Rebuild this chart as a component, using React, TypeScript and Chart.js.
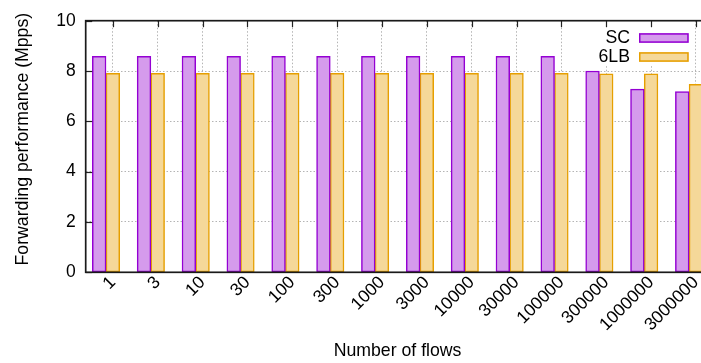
import React, { useEffect, useRef } from 'react';
import { Chart, registerables } from 'chart.js';

Chart.register(...registerables);

const categories = ['1', '3', '10', '30', '100', '300', '1000', '3000', '10000', '30000', '100000', '300000', '1000000', '3000000'];
const seriesNames = ['SC', '6LB'];
const scValues = [8.58, 8.58, 8.58, 8.58, 8.58, 8.58, 8.58, 8.58, 8.58, 8.58, 8.58, 8.0, 7.28, 7.18];
const lbValues = [7.91, 7.91, 7.91, 7.91, 7.91, 7.91, 7.91, 7.91, 7.91, 7.91, 7.91, 7.89, 7.89, 7.47];
const yTicks = [0, 2, 4, 6, 8, 10];

const FONT = "'Liberation Sans', Arial, Helvetica, sans-serif";
const TICK_SHIFT = 0.153;
const CANVAS_W = 720;
const CANVAS_H = 363;

export default function App() {
  const ref = useRef<HTMLCanvasElement>(null);

  useEffect(() => {
    const canvas = ref.current as HTMLCanvasElement;

    const framePlugin = {
      id: 'gnuFrame',
      afterDraw(chart: any) {
        const { ctx, chartArea } = chart;
        const { left, right, top, bottom } = chartArea;
        ctx.save();
        // key (legend) box
        const fontSize = 17.7;
        ctx.font = `${fontSize}px ${FONT}`;
        ctx.fillStyle = '#ffffff';
        ctx.fillRect(592, 23, 100, 43);
        chart.data.datasets.forEach((ds: any, i: number) => {
          const cy = 38 + i * 19;
          ctx.fillStyle = '#000';
          ctx.textAlign = 'right';
          ctx.textBaseline = 'middle';
          ctx.fillText(ds.label, 630, cy);
          ctx.fillStyle = ds.backgroundColor;
          ctx.fillRect(639, cy - 4.8, 49.7, 9.6);
          ctx.strokeStyle = ds.borderColor;
          ctx.lineWidth = 1.5;
          ctx.strokeRect(639.75, cy - 4.05, 48.2, 8.1);
        });
        // inward ticks
        ctx.strokeStyle = '#222';
        ctx.lineWidth = 1.2;
        const xs = chart.scales.x;
        xs.ticks.forEach((t: any) => {
          const px = Math.round(xs.getPixelForValue(t.value)) + 0.5;
          ctx.beginPath();
          ctx.moveTo(px, top);
          ctx.lineTo(px, top + 6.5);
          ctx.stroke();
        });
        const ys = chart.scales.y;
        ys.ticks.forEach((t: any) => {
          const py = Math.round(ys.getPixelForValue(t.value)) + 0.5;
          ctx.beginPath();
          ctx.moveTo(left, py);
          ctx.lineTo(left + 6.5, py);
          ctx.stroke();
        });
        // frame
        ctx.strokeStyle = '#1a1a1a';
        ctx.lineWidth = 1.7;
        ctx.strokeRect(left, top, right - left, bottom - top);
        ctx.restore();
      },
    };

    const borderStyle = { display: false, dash: [1.5, 2] };

    const chart = new Chart(canvas, {
      type: 'bar',
      data: {
        datasets: [
          {
            label: seriesNames[0],
            data: scValues.map((v, i) => ({ x: i, y: v })),
            backgroundColor: '#d59bec',
            borderColor: '#9400d3',
            borderWidth: 1.5,
            borderSkipped: false,
            barThickness: 13.7,
          },
          {
            label: seriesNames[1],
            data: lbValues.map((v, i) => ({ x: i, y: v })),
            backgroundColor: '#f5d899',
            borderColor: '#e69f00',
            borderWidth: 1.5,
            borderSkipped: false,
            barThickness: 13.7,
          },
        ],
      } as any,
      options: {
        animation: false,
        responsive: false,
        devicePixelRatio: 1,
        layout: { padding: { left: 0, top: 20.7, right: CANVAS_W - 709.4, bottom: 0 } },
        plugins: { legend: { display: false }, tooltip: { enabled: false } },
        scales: {
          x: {
            type: 'linear',
            offset: false,
            min: -0.453,
            max: 13.453,
            afterBuildTicks: (s: any) => {
              s.ticks = categories.map((_, i) => ({ value: i + TICK_SHIFT }));
            },
            afterFit: (s: any) => {
              s.height = 90.7;
              s.paddingLeft = 0;
              s.paddingRight = 0;
            },
            ticks: {
              autoSkip: false,
              maxRotation: 45,
              minRotation: 45,
              padding: 0,
              color: '#000',
              font: { family: FONT, size: 17.5 },
              callback: (_v: any, i: number) => categories[i],
            },
            grid: { color: '#b4b4b4', lineWidth: 1, drawTicks: false, offset: false },
            border: borderStyle,
            title: {
              display: true,
              text: 'Number of flows',
              color: '#000',
              font: { family: FONT, size: 17.7 },
              padding: { top: 0, bottom: 1 },
            },
          },
          y: {
            min: 0,
            max: 10,
            afterBuildTicks: (s: any) => {
              s.ticks = yTicks.map((v) => ({ value: v }));
            },
            afterFit: (s: any) => {
              s.width = 85.7;
            },
            ticks: {
              padding: 10,
              color: '#000',
              font: { family: FONT, size: 17.5 },
            },
            grid: { color: '#b4b4b4', lineWidth: 1, drawTicks: false },
            border: borderStyle,
            title: {
              display: true,
              text: '   Forwarding performance (Mpps)',
              color: '#000',
              font: { family: FONT, size: 17.7 },
              padding: { top: 12.9, bottom: 0 },
            },
          },
        },
      } as any,
      plugins: [framePlugin],
    });

    return () => chart.destroy();
  }, []);

  return (
    <div
      style={{
        position: 'absolute',
        left: 0,
        top: 0,
        width: 701,
        height: 363,
        overflow: 'hidden',
        background: '#fff',
      }}
    >
      <canvas
        ref={ref}
        width={CANVAS_W}
        height={CANVAS_H}
        style={{ display: 'block', width: CANVAS_W, height: CANVAS_H }}
      />
    </div>
  );
}
